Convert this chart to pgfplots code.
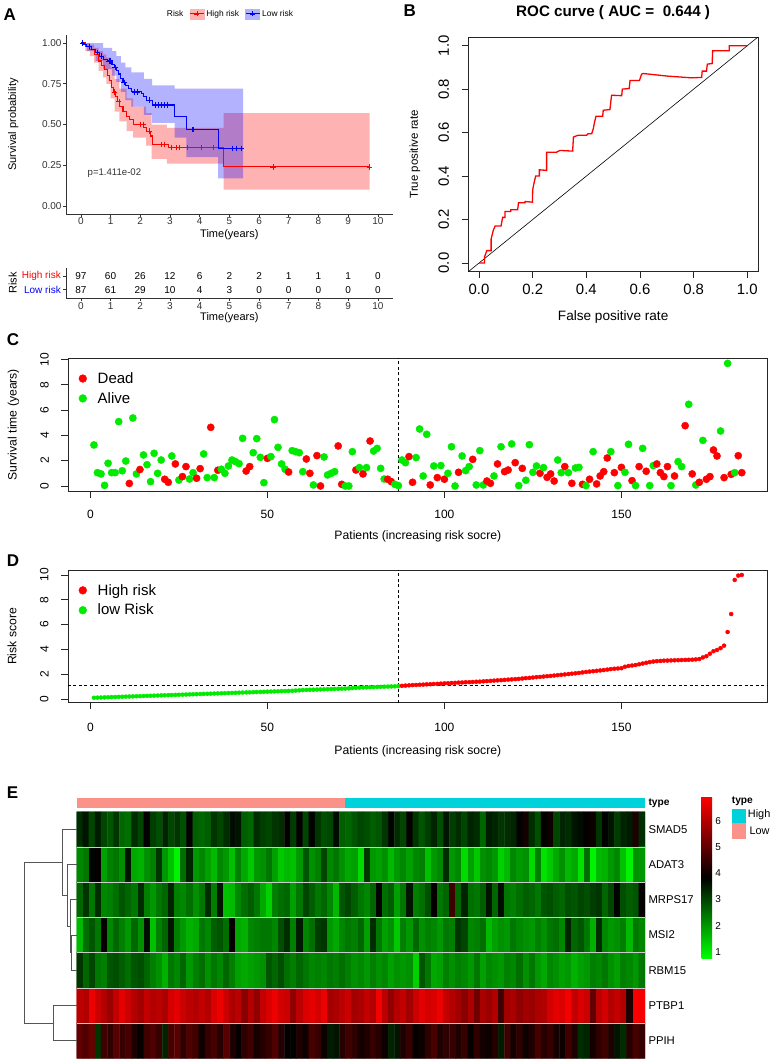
\documentclass[border=0pt]{standalone}
\usepackage{fontspec}
\setmainfont{Liberation Sans}
\usepackage{pgfplots}
\pgfplotsset{compat=1.18}
\newcommand{\fs}[1]{\fontsize{#1}{#1}\selectfont}
\definecolor{dgreen}{RGB}{0,235,0}
\definecolor{lowc}{RGB}{250,146,137}
\definecolor{highc}{RGB}{0,210,220}
\definecolor{dendro}{RGB}{85,85,85}
\pgfplotsset{
 every axis/.append style={/pgf/number format/assume math mode=true, scale only axis, anchor=north west},
 rstyle/.style={tick align=outside, tick pos=left, major tick length=6.7pt,
   tick style={black!85, line width=0.6pt}, axis line style={black!85, line width=0.8pt},
   ticklabel style={text=black}},
 kmkeyred/.style={legend image code/.code={
   \fill[red!30] (0pt,-5pt) rectangle (14pt,5pt);
   \draw[red, line width=1.1pt] (0pt,0pt) -- (14pt,0pt);
   \draw[red, line width=0.7pt] (7pt,-2.5pt) -- (7pt,2.5pt) (4.5pt,0pt) -- (9.5pt,0pt);}},
 kmkeyblue/.style={legend image code/.code={
   \fill[blue!30] (0pt,-5pt) rectangle (14pt,5pt);
   \draw[blue, line width=1.1pt] (0pt,0pt) -- (14pt,0pt);
   \draw[blue, line width=0.7pt] (7pt,-2.5pt) -- (7pt,2.5pt) (4.5pt,0pt) -- (9.5pt,0pt);}},
}
\begin{document}
\begin{tikzpicture}
\path[use as bounding box, fill=white] (0pt,0pt) rectangle (774pt,-1062pt);
% panel letters
\node[anchor=north west, inner sep=0pt, font=\fs{17}\bfseries] at (3.3pt,-8.3pt) {A};
\node[anchor=north west, inner sep=0pt, font=\fs{17}\bfseries] at (403.3pt,-5pt) {B};
\node[anchor=north west, inner sep=0pt, font=\fs{17}\bfseries] at (6.7pt,-333.3pt) {C};
\node[anchor=north west, inner sep=0pt, font=\fs{17}\bfseries] at (6.7pt,-555pt) {D};
\node[anchor=north west, inner sep=0pt, font=\fs{17}\bfseries] at (6.7pt,-786.7pt) {E};

% ---------------- Panel A: KM ----------------
\begin{axis}[at={(66pt,-34.9pt)}, width=326.7pt, height=179.3pt,
 xmin=-0.5, xmax=10.5, ymin=-0.05, ymax=1.05,
 axis x line*=bottom, axis y line*=left,
 axis line style={black!80, line width=0.9pt},
 tick align=outside, major tick length=3pt, tick style={black!80, line width=0.7pt},
 xtick={0,1,2,3,4,5,6,7,8,9,10}, ytick={0,0.25,0.5,0.75,1},
 yticklabels={0.00,0.25,0.50,0.75,1.00},
 ticklabel style={font=\fs{10}, text=black!80},
 xticklabel style={inner sep=0pt}, yticklabel style={inner sep=1.3pt},
 xlabel={Time(years)}, ylabel={Survival probability},
 label style={font=\fs{11}},
 xlabel style={at={(axis description cs:0.5,-0.116)}, anchor=center},
 ylabel style={at={(axis description cs:-0.161,0.5)}, anchor=center},
 legend style={at={(axis description cs:0.502,1)}, anchor=south, yshift=13pt, draw=none, fill=none,
   font=\fs{8.4}, /tikz/every even column/.append style={column sep=4pt}},
 legend columns=-1,
]
\addlegendimage{empty legend}\addlegendentry{Risk}
\addlegendimage{kmkeyred}\addlegendentry{High risk}
\addlegendimage{kmkeyblue}\addlegendentry{Low risk}
\addplot[fill=red, fill opacity=0.3, draw=none, forget plot] coordinates {
(0,1.00) (0.15,1.00) (0.3,1.00) (0.3,0.99) (0.45,0.99) (0.45,0.97) (0.6,0.97) (0.6,0.95) (0.75,0.95)
(0.75,0.93) (0.86,0.93) (0.86,0.91) (1.0,0.91) (1.0,0.85) (1.14,0.85) (1.14,0.78) (1.3,0.78) (1.3,0.72)
(1.54,0.72) (1.54,0.66) (1.76,0.66) (1.76,0.61) (2.2,0.61) (2.2,0.57) (2.38,0.57) (2.38,0.50) (2.9,0.50)
(2.9,0.48) (4.81,0.48) (4.81,0.57) (9.72,0.57)
(9.72,0.10) (4.81,0.10) (4.81,0.26) (2.9,0.26) (2.9,0.29) (2.38,0.29) (2.38,0.37) (2.2,0.37) (2.2,0.42)
(1.76,0.42) (1.76,0.46) (1.54,0.46) (1.54,0.52) (1.3,0.52) (1.3,0.58) (1.14,0.58) (1.14,0.66) (1.0,0.66)
(1.0,0.75) (0.86,0.75) (0.86,0.79) (0.75,0.79) (0.75,0.83) (0.6,0.83) (0.6,0.88) (0.45,0.88) (0.45,0.92)
(0.3,0.92) (0.3,0.95) (0.15,0.95) (0.15,1.00) (0,1.00)} -- cycle;
\addplot[fill=blue, fill opacity=0.3, draw=none, forget plot] coordinates {
(0,1.00) (0.75,1.00) (0.75,0.97) (1.05,0.97) (1.05,0.95) (1.2,0.95) (1.2,0.92) (1.35,0.92) (1.35,0.88)
(1.5,0.88) (1.5,0.85) (1.7,0.85) (1.7,0.82) (2.12,0.82) (2.12,0.78) (2.4,0.78) (2.4,0.74) (3.16,0.74)
(3.16,0.72) (5.46,0.72)
(5.46,0.17) (4.62,0.17) (4.62,0.30) (3.55,0.30) (3.55,0.42) (3.16,0.42) (3.16,0.51) (2.4,0.51) (2.4,0.56)
(2.12,0.56) (2.12,0.61) (1.7,0.61) (1.7,0.65) (1.5,0.65) (1.5,0.70) (1.35,0.70) (1.35,0.76) (1.2,0.76)
(1.2,0.80) (1.05,0.80) (1.05,0.84) (0.75,0.84) (0.75,0.89) (0.5,0.89) (0.5,0.95) (0.2,0.95) (0.2,1.00)
(0,1.00)} -- cycle;
\addplot[const plot, red, line width=1.1pt, forget plot] coordinates {
(0,1.00) (0.15,0.98) (0.3,0.96) (0.45,0.93) (0.6,0.89) (0.7,0.86) (0.8,0.84) (0.9,0.80) (0.97,0.77)
(1.03,0.73) (1.1,0.70) (1.16,0.67) (1.22,0.64) (1.31,0.61) (1.42,0.58) (1.54,0.55) (1.65,0.53)
(1.76,0.50) (2.12,0.48) (2.2,0.46) (2.34,0.43) (2.41,0.38) (2.94,0.36) (4.81,0.24) (9.72,0.24)};
\addplot[const plot, blue, line width=1.1pt, forget plot] coordinates {
(0,1.00) (0.1,0.99) (0.2,0.98) (0.35,0.96) (0.5,0.94) (0.62,0.92) (0.75,0.90) (0.9,0.89) (1.05,0.87)
(1.12,0.85) (1.2,0.83) (1.28,0.81) (1.35,0.78) (1.42,0.76) (1.5,0.74) (1.6,0.72) (1.7,0.70) (2.05,0.69)
(2.12,0.67) (2.2,0.65) (2.4,0.62) (3.16,0.55) (3.55,0.47) (4.62,0.355) (5.46,0.355)};
\addplot[only marks, mark=+, mark size=2.6pt, red, line width=0.7pt, forget plot] coordinates {
(1.12,0.70) (1.28,0.64) (2.0,0.50) (2.1,0.50) (2.3,0.46) (2.7,0.38) (2.8,0.38) (3.05,0.36) (3.2,0.36)
(3.3,0.36) (3.6,0.36) (4.05,0.36) (4.45,0.36) (6.47,0.24) (9.72,0.24)};
\addplot[only marks, mark=+, mark size=2.6pt, blue, line width=0.7pt, forget plot] coordinates {
(0.05,1.0) (0.3,0.98) (0.55,0.94) (0.7,0.92) (0.95,0.89) (1.0,0.89) (1.15,0.85) (1.45,0.76) (1.8,0.70)
(1.9,0.70) (2.3,0.65) (2.5,0.62) (2.6,0.62) (2.7,0.62) (2.8,0.62) (2.9,0.62) (3.75,0.47) (3.8,0.47)
(5.1,0.355) (5.25,0.355) (5.4,0.355)};
\node[font=\fs{9.6}, text=black!80] at (axis cs:1.13,0.2) {p=1.411e-02};
\end{axis}

% ---------------- Risk table ----------------
\begin{axis}[at={(66pt,-268pt)}, width=326.7pt, height=30pt,
 xmin=-0.5, xmax=10.5, ymin=0.4, ymax=2.6,
 axis x line*=bottom, axis y line*=left,
 axis line style={black!80, line width=0.9pt},
 tick align=outside, major tick length=3pt, tick style={black!80, line width=0.7pt},
 xtick={0,1,2,3,4,5,6,7,8,9,10}, ytick={1,2},
 yticklabels={\textcolor{blue}{Low risk},\textcolor{red}{High risk}},
 ticklabel style={font=\fs{10}, text=black!80},
 xticklabel style={inner sep=1.2pt}, yticklabel style={inner sep=2pt},
 xlabel={Time(years)}, ylabel={Risk},
 label style={font=\fs{11}},
 xlabel style={at={(axis description cs:0.5,-0.667)}, anchor=center},
 ylabel style={at={(axis description cs:-0.163,0.5)}, anchor=center},
]
\addplot[only marks, mark=*, mark size=0pt, scatter/use mapped color={draw=white, fill=white, draw opacity=0, fill opacity=0},
 nodes near coords, point meta=explicit symbolic,
 every node near coord/.style={anchor=center, font=\fs{10}, text=black, opacity=1}] table[meta=n] {
x y n
0 2 97
1 2 60
2 2 26
3 2 12
4 2 6
5 2 2
6 2 2
7 2 1
8 2 1
9 2 1
10 2 0
0 1 87
1 1 61
2 1 29
3 1 10
4 1 4
5 1 3
6 1 0
7 1 0
8 1 0
9 1 0
10 1 0
};
\end{axis}

% ---------------- Panel B: ROC ----------------
\begin{axis}[rstyle, at={(468.3pt,-37pt)}, width=289.7pt, height=234.7pt,
 xmin=-0.04, xmax=1.04, ymin=-0.04, ymax=1.04,
 xtick={0,0.2,0.4,0.6,0.8,1}, ytick={0,0.2,0.4,0.6,0.8,1},
 xticklabels={0.0,0.2,0.4,0.6,0.8,1.0}, yticklabels={0.0,0.2,0.4,0.6,0.8,1.0},
 ticklabel style={font=\fs{14.9}},
 xticklabel style={inner sep=0pt, yshift=-5.6pt},
 yticklabel style={rotate=90, anchor=south, inner sep=12.3pt},
 xlabel={False positive rate}, ylabel={True positive rate},
 xlabel style={at={(axis description cs:0.5,-0.192)}, anchor=center, font=\fs{13.6}},
 ylabel style={at={(axis description cs:-0.184,0.5)}, anchor=center, font=\fs{11.5}},
 title={ROC curve ( AUC =~~0.644 )},
 title style={at={(axis description cs:0.5,1)}, anchor=center, yshift=18pt, font=\fs{15.2}\bfseries},
]
\addplot[black, line width=0.6pt] coordinates {(-0.04,-0.04) (1.04,1.04)};
\addplot[red, line width=1.3pt] coordinates {
(0,0) (0.02,0) (0.02,0.026) (0.029,0.057) (0.045,0.057) (0.045,0.11) (0.053,0.15) (0.06,0.17)
(0.082,0.17) (0.088,0.21) (0.097,0.21) (0.097,0.237) (0.118,0.237) (0.118,0.245) (0.144,0.245)
(0.147,0.277) (0.171,0.277) (0.171,0.283) (0.199,0.28) (0.2,0.337) (0.205,0.368) (0.211,0.40)
(0.225,0.40) (0.225,0.429) (0.252,0.426) (0.252,0.51) (0.289,0.51) (0.302,0.518) (0.349,0.515)
(0.352,0.58) (0.37,0.588) (0.401,0.588) (0.407,0.595) (0.42,0.595) (0.426,0.618) (0.43,0.645)
(0.436,0.675) (0.461,0.675) (0.463,0.703) (0.488,0.706) (0.494,0.772) (0.532,0.77) (0.534,0.8)
(0.56,0.803) (0.563,0.84) (0.598,0.84) (0.606,0.869) (0.612,0.872) (0.703,0.86) (0.793,0.852)
(0.83,0.854) (0.832,0.883) (0.848,0.883) (0.851,0.915) (0.869,0.918) (0.871,0.977) (0.892,0.977)
(0.933,0.977) (0.933,1.0) (0.973,1.0) (1.0,1.0)};
\end{axis}

% ---------------- Panel C ----------------
\begin{axis}[rstyle, at={(68pt,-358.2pt)}, width=699.7pt, height=132.7pt,
 xmin=-6.32, xmax=191.32, ymin=-0.39, ymax=10.09,
 xtick={0,50,100,150}, ytick={0,2,4,6,8,10},
 ticklabel style={font=\fs{12}},
 xticklabel style={inner sep=0pt, yshift=-12.8pt},
 yticklabel style={rotate=90, anchor=south, inner sep=12.3pt},
 xlabel={Patients (increasing risk socre)}, ylabel={Survival time (years)},
 label style={font=\fs{12.2}},
 xlabel style={at={(axis description cs:0.5,-0.34)}, anchor=center},
 ylabel style={at={(axis description cs:-0.0779,0.5)}, anchor=center},
 legend style={at={(axis description cs:0.011,0.925)}, anchor=north west, draw=none, fill=none,
   font=\fs{15}, row sep=3.5pt, /tikz/every odd column/.append style={column sep=9pt}},
 legend cell align=left,
]
\addlegendimage{only marks, mark=*, red, mark size=3.9pt}\addlegendentry{Dead}
\addlegendimage{only marks, mark=*, dgreen, mark size=3.9pt}\addlegendentry{Alive}
\addplot[black, dash pattern=on 3pt off 2.5pt, line width=0.7pt, forget plot] coordinates {(87,-0.39) (87,10.09)};
\addplot[scatter, only marks, mark=*, mark size=3.6pt, scatter src=explicit symbolic,
 scatter/classes={d={mark=*,red}, a={mark=*,dgreen}}, forget plot] coordinates {
(1,3.24)[a] (2,1.05)[a] (3,0.95)[a] (4,0.05)[a] (5,1.79)[a] (6,1.05)[a] (7,1.05)[a] (8,5.08)[a] (9,1.20)[a] (10,1.97)[a]
(11,0.20)[d] (12,5.37)[a] (13,0.95)[a] (14,1.30)[d] (15,2.45)[a] (16,1.68)[a] (17,0.34)[a] (18,2.58)[a] (19,1.00)[a] (20,2.05)[a]
(21,0.53)[d] (22,0.29)[d] (23,2.37)[a] (24,1.74)[d] (25,0.47)[a] (26,0.74)[d] (27,1.53)[d] (28,0.55)[a] (29,1.05)[a] (30,0.61)[d]
(31,1.37)[d] (32,2.53)[a] (33,0.66)[a] (34,4.63)[d] (35,0.66)[a] (36,1.24)[d] (37,1.32)[a] (38,1.00)[a] (39,1.58)[a] (40,2.05)[a]
(41,1.92)[a] (42,1.76)[a] (43,3.76)[a] (44,1.18)[d] (45,1.53)[d] (46,2.63)[a] (47,3.74)[a] (48,2.26)[a] (49,0.26)[a] (50,2.18)[d]
(51,2.32)[a] (52,5.24)[a] (53,3.05)[a] (54,1.74)[a] (55,1.32)[a] (56,1.10)[d] (57,2.79)[a] (58,2.71)[a] (59,2.63)[a] (60,1.13)[a]
(61,2.13)[d] (62,1.00)[d] (63,0.08)[a] (64,2.40)[d] (65,0.00)[d] (66,2.29)[a] (67,0.87)[a] (68,1.00)[a] (69,1.13)[a] (70,3.16)[d]
(71,0.13)[d] (72,0.00)[a] (73,0.00)[a] (74,2.71)[a] (75,1.26)[d] (76,1.45)[a] (77,0.95)[d] (78,1.45)[a] (79,3.55)[d] (80,2.76)[a]
(81,2.97)[a] (82,1.39)[a] (83,0.55)[a] (84,0.53)[d] (85,0.34)[d] (86,0.13)[a] (87,0.03)[a]
(88,2.05)[a] (89,1.84)[a] (90,2.32)[d] (91,0.29)[d] (92,2.24)[a] (93,4.50)[a] (94,0.79)[a] (95,4.08)[a] (96,0.08)[d] (97,1.58)[a]
(98,0.66)[d] (99,1.61)[a] (100,0.53)[d] (101,1.00)[a] (102,3.10)[a] (103,0.00)[a] (104,1.08)[d] (105,2.37)[a] (106,1.21)[a] (107,1.53)[a]
(108,2.10)[d] (109,0.08)[a] (110,2.79)[a] (111,0.08)[a] (112,0.39)[d] (113,0.21)[d] (114,0.79)[a] (115,1.74)[d] (116,3.10)[a] (117,1.13)[d]
(118,1.26)[d] (119,3.32)[a] (120,1.84)[d] (121,0.03)[a] (122,1.39)[d] (123,0.45)[a] (124,3.26)[a] (125,1.08)[a] (126,1.58)[a] (127,1.00)[d]
(128,1.45)[a] (129,0.68)[d] (130,0.95)[d] (131,0.39)[d] (132,2.05)[a] (133,1.05)[a] (134,1.53)[d] (135,1.05)[a] (136,0.21)[d] (137,1.42)[a]
(138,1.47)[a] (139,0.13)[d] (140,0.03)[a] (141,0.53)[d] (142,2.71)[a] (143,0.16)[d] (144,0.79)[d] (145,1.13)[d] (146,2.21)[d] (147,2.71)[a]
(148,1.05)[d] (149,0.03)[a] (150,1.47)[d] (151,1.08)[a] (152,3.29)[a] (153,0.42)[d] (154,0.03)[a] (155,1.53)[d] (156,2.97)[a] (157,1.16)[d]
(158,0.03)[a] (159,1.61)[a] (160,1.74)[d] (161,1.05)[d] (162,0.74)[d] (163,1.53)[d] (164,0.03)[a] (165,0.79)[d] (166,1.92)[a] (167,1.53)[a]
(168,4.76)[d] (169,6.45)[a] (170,0.95)[d] (171,0.08)[a] (172,0.29)[d] (173,3.60)[a] (174,0.53)[d] (175,0.74)[d] (176,2.84)[d] (177,2.37)[d]
(178,4.34)[a] (179,0.66)[d] (180,9.68)[a] (181,0.92)[d] (182,1.05)[a] (183,2.39)[d] (184,1.05)[d]};
\end{axis}

% ---------------- Panel D ----------------
\begin{axis}[rstyle, at={(68pt,-570pt)}, width=699.7pt, height=132.7pt,
 xmin=-6.32, xmax=191.32, ymin=-0.3, ymax=10.4,
 xtick={0,50,100,150}, ytick={0,2,4,6,8,10},
 ticklabel style={font=\fs{12}},
 xticklabel style={inner sep=0pt, yshift=-13.3pt},
 yticklabel style={rotate=90, anchor=south, inner sep=12.5pt},
 xlabel={Patients (increasing risk socre)}, ylabel={Risk score},
 label style={font=\fs{12.2}},
 xlabel style={at={(axis description cs:0.5,-0.364)}, anchor=center},
 ylabel style={at={(axis description cs:-0.08,0.5)}, anchor=center},
 legend style={at={(axis description cs:0.011,0.925)}, anchor=north west, draw=none, fill=none,
   font=\fs{15}, row sep=3.5pt, /tikz/every odd column/.append style={column sep=9pt}},
 legend cell align=left,
]
\addlegendimage{only marks, mark=*, red, mark size=3.9pt}\addlegendentry{High risk}
\addlegendimage{only marks, mark=*, dgreen, mark size=3.9pt}\addlegendentry{low Risk}
\addplot[black, dash pattern=on 3pt off 2.5pt, line width=0.7pt, forget plot] coordinates {(87,-0.3) (87,10.4)};
\addplot[black, dash pattern=on 3pt off 2.5pt, line width=0.7pt, forget plot] coordinates {(-6.32,1.13) (191.32,1.13)};
\addplot[only marks, mark=*, mark size=2pt, dgreen, forget plot] coordinates {
(1,0.10) (2,0.11) (3,0.12) (4,0.13) (5,0.14) (6,0.15) (7,0.16) (8,0.17) (9,0.18) (10,0.19)
(11,0.20) (12,0.21) (13,0.22) (14,0.23) (15,0.24) (16,0.25) (17,0.26) (18,0.27) (19,0.28) (20,0.29)
(21,0.30) (22,0.31) (23,0.32) (24,0.33) (25,0.34) (26,0.35) (27,0.36) (28,0.37) (29,0.38) (30,0.39)
(31,0.40) (32,0.41) (33,0.42) (34,0.43) (35,0.44) (36,0.45) (37,0.46) (38,0.47) (39,0.48) (40,0.49)
(41,0.50) (42,0.51) (43,0.52) (44,0.53) (45,0.54) (46,0.55) (47,0.56) (48,0.57) (49,0.58) (50,0.59)
(51,0.60) (52,0.61) (53,0.62) (54,0.63) (55,0.64) (56,0.65) (57,0.66) (58,0.68) (59,0.70) (60,0.72)
(61,0.73) (62,0.74) (63,0.75) (64,0.76) (65,0.77) (66,0.78) (67,0.79) (68,0.80) (69,0.81) (70,0.82)
(71,0.83) (72,0.84) (73,0.86) (74,0.88) (75,0.90) (76,0.92) (77,0.93) (78,0.94) (79,0.95) (80,0.96)
(81,0.97) (82,0.98) (83,0.99) (84,1.00) (85,1.01) (86,1.02) (87,1.04)};
\addplot[only marks, mark=*, mark size=2pt, red, forget plot] coordinates {
(88,1.06) (89,1.08) (90,1.10) (91,1.12) (92,1.13) (93,1.15) (94,1.16) (95,1.18) (96,1.19) (97,1.21)
(98,1.22) (99,1.24) (100,1.26) (101,1.27) (102,1.29) (103,1.30) (104,1.32) (105,1.33) (106,1.35) (107,1.36)
(108,1.37) (109,1.39) (110,1.40) (111,1.42) (112,1.44) (113,1.46) (114,1.48) (115,1.50) (116,1.52) (117,1.54)
(118,1.56) (119,1.58) (120,1.60) (121,1.62) (122,1.65) (123,1.68) (124,1.70) (125,1.73) (126,1.76) (127,1.78)
(128,1.81) (129,1.84) (130,1.86) (131,1.89) (132,1.92) (133,1.95) (134,1.98) (135,2.01) (136,2.04) (137,2.07)
(138,2.10) (139,2.14) (140,2.18) (141,2.21) (142,2.24) (143,2.27) (144,2.30) (145,2.33) (146,2.37) (147,2.41)
(148,2.44) (149,2.46) (150,2.48) (151,2.60) (152,2.66) (153,2.70) (154,2.74) (155,2.80) (156,2.86) (157,2.92)
(158,2.97) (159,3.02) (160,3.05) (161,3.07) (162,3.09) (163,3.10) (164,3.11) (165,3.12) (166,3.13) (167,3.14)
(168,3.15) (169,3.16) (170,3.17) (171,3.19) (172,3.22) (173,3.35) (174,3.45) (175,3.65) (176,3.85) (177,3.95)
(178,4.10) (179,4.30) (180,5.40) (181,6.85) (182,9.60) (183,9.95) (184,10.0)};
\end{axis}

% ---------------- Panel E: heatmap ----------------
\begin{axis}[at={(76.7pt,-811.7pt)}, width=568.3pt, height=246.6pt,
 xmin=-0.5, xmax=92.5, ymin=-0.5, ymax=6.5, y dir=reverse, clip=false,
 axis line style={draw=none}, tick style={draw=none}, major tick length=0pt, xtick=\empty,
 ytick={0,1,2,3,4,5,6},
 yticklabels={SMAD5,ADAT3,MRPS17,MSI2,RBM15,PTBP1,PPIH},
 yticklabel pos=right, yticklabel style={font=\fs{11.3}, inner sep=3.3pt},
 colormap={gbr}{rgb255=(0,255,0) rgb255=(0,0,0) rgb255=(255,0,0)},
 point meta min=0.75, point meta max=6.93,
 colorbar,
 colorbar style={at={(parent axis.north east)}, anchor=north west, xshift=48pt, yshift=15pt,
   width=10.7pt, height=161.6pt, ytick={1,2,3,4,5,6}, yticklabel pos=right,
   axis line style={draw=none}, tick style={draw=none}, major tick length=0pt,
   yticklabel style={font=\fs{10}, inner sep=3pt}},
]
\addplot[matrix plot*, mesh/cols=93, point meta=explicit, forget plot]
 table[header=false, x expr={mod(\coordindex,93)}, y expr={floor((\coordindex+0.5)/93)}, meta index=0] {
3.3
3.6
3.0
3.5
3.0
2.8
3.2
2.6
2.5
3.3
3.0
3.9
3.1
2.9
3.4
3.0
3.2
2.9
3.9
2.7
2.6
2.7
3.2
3.0
3.3
3.7
3.6
2.7
2.6
3.3
3.1
3.0
3.2
3.3
3.9
3.1
3.9
3.0
3.8
3.2
2.9
3.0
3.7
2.7
2.6
2.8
3.0
2.9
2.7
2.8
3.2
3.8
3.3
3.0
3.9
3.2
2.8
3.1
3.4
2.9
3.6
3.1
3.3
3.0
3.4
3.3
2.6
3.5
3.4
3.2
3.3
3.4
3.8
4.1
3.3
2.9
3.9
4.0
3.0
3.4
3.3
3.6
3.7
3.9
4.0
3.2
3.8
3.6
3.1
3.4
3.5
4.2
3.3
2.2
2.4
3.8
3.9
1.9
2.3
2.4
2.1
3.6
1.8
1.7
2.1
2.3
3.2
2.0
1.5
0.9
2.5
3.4
2.0
2.2
1.9
1.6
2.2
2.0
1.5
2.3
1.8
1.4
2.0
2.1
2.4
1.9
1.4
1.6
1.5
2.0
2.8
2.1
2.3
3.0
2.2
2.4
2.1
1.8
1.9
1.2
3.2
2.0
1.9
2.1
1.6
2.0
2.2
1.9
2.2
2.3
1.5
2.0
2.2
3.3
2.0
2.2
1.2
1.9
1.4
2.1
2.2
2.0
1.3
1.6
2.2
2.0
2.1
1.2
2.3
1.1
1.4
1.8
2.1
1.6
1.8
1.1
2.5
0.9
1.6
1.7
2.0
2.2
1.5
0.9
2.1
2.0
2.6
3.2
2.4
3.3
2.2
2.3
2.5
2.8
2.6
2.4
3.3
2.3
2.0
2.4
2.6
3.4
2.3
2.2
2.5
2.1
2.4
3.3
2.3
3.6
1.5
1.6
2.2
2.5
2.7
2.4
1.8
1.3
2.3
2.5
2.6
1.9
2.4
3.0
2.7
2.4
2.6
2.2
1.6
2.8
3.0
2.7
2.4
2.2
2.6
3.8
2.5
2.7
1.9
2.4
3.6
2.3
2.5
2.9
3.9
2.4
2.6
4.6
2.6
3.4
2.5
2.4
2.7
3.6
2.6
3.7
2.4
2.3
2.5
2.7
2.6
2.4
2.8
2.9
2.7
2.6
2.9
2.8
3.0
2.9
3.1
3.2
2.6
3.0
3.8
2.9
2.7
2.8
3.9
1.6
2.5
2.8
2.4
3.9
2.2
2.6
2.3
2.0
2.6
2.1
3.7
1.5
2.3
2.6
3.6
2.3
2.0
1.7
1.8
2.4
2.2
2.7
2.8
2.5
3.9
1.8
1.7
2.2
2.3
2.4
2.4
2.2
2.9
3.3
2.3
3.5
2.2
2.5
3.1
3.2
2.0
1.8
2.2
2.4
2.3
2.6
1.9
3.3
2.4
1.9
2.1
1.4
2.3
2.0
2.6
2.1
2.3
2.2
2.0
2.4
2.3
3.2
3.0
2.2
2.3
2.5
1.6
1.9
2.1
2.0
2.4
2.2
2.1
2.0
2.3
2.1
2.4
2.5
2.2
3.4
2.6
2.8
2.4
1.7
3.3
2.2
2.0
2.1
2.3
1.6
2.4
2.2
3.2
2.6
3.0
2.4
2.3
2.8
2.9
2.7
2.5
2.8
2.9
2.6
2.3
2.1
1.7
2.4
2.2
2.6
2.0
2.3
2.5
2.1
2.4
2.2
2.6
2.3
1.9
1.8
1.9
2.0
2.1
2.8
2.6
2.9
2.5
2.3
2.6
2.4
2.2
2.3
2.2
2.4
2.3
2.5
2.3
2.1
2.2
2.0
2.3
2.1
2.2
1.9
2.1
2.0
2.1
1.3
2.8
2.4
1.8
1.9
2.3
2.1
2.3
2.2
2.0
2.4
1.9
2.2
2.1
2.0
2.3
2.2
2.5
2.1
2.4
2.0
1.8
2.2
2.1
1.9
2.0
1.7
1.9
2.0
2.3
2.2
2.4
2.1
1.9
2.3
2.2
2.0
2.4
6.1
6.0
6.7
6.3
6.0
5.7
6.2
6.6
6.3
6.0
5.8
6.2
6.0
6.1
5.9
6.4
6.6
6.3
6.1
6.0
6.2
6.0
6.5
6.7
6.3
5.9
6.1
5.5
6.0
5.6
6.2
6.5
6.7
6.4
6.3
5.6
6.1
6.5
6.6
6.4
6.7
5.8
5.9
6.1
6.3
5.8
5.9
6.2
6.0
6.8
6.1
5.6
6.0
6.2
5.8
6.3
6.6
6.4
6.5
6.7
6.2
6.0
5.8
5.5
5.9
5.2
5.9
5.7
6.0
4.6
5.8
5.9
5.6
5.8
5.7
5.9
6.0
6.4
6.6
6.5
6.8
6.2
6.5
6.3
5.0
6.1
6.4
6.0
6.2
6.0
4.2
6.9
6.8
5.0
4.8
5.1
3.2
4.6
4.4
4.9
4.5
4.7
4.2
3.9
4.6
4.8
4.5
3.4
4.7
4.9
4.4
4.8
4.6
4.0
4.5
4.7
4.3
4.9
4.2
3.9
4.4
4.6
4.1
4.3
4.5
4.8
4.3
3.9
3.8
4.2
4.0
4.7
4.5
4.0
3.5
3.6
4.3
4.6
4.4
4.1
4.2
4.5
4.3
4.0
3.4
3.6
4.2
4.5
3.9
4.0
4.4
4.7
4.2
4.4
4.5
4.2
4.5
3.9
4.4
4.1
4.0
4.3
3.5
4.6
4.1
4.4
4.0
4.2
4.7
4.3
4.5
4.1
4.0
4.6
4.2
3.3
3.4
4.1
4.4
4.6
4.2
3.6
3.3
4.3
4.7
4.5
};
\addplot[lightgray!80, line width=0.5pt, forget plot] coordinates {(-0.5,0.5) (92.5,0.5)};
\addplot[lightgray!80, line width=0.5pt, forget plot] coordinates {(-0.5,1.5) (92.5,1.5)};
\addplot[lightgray!80, line width=0.5pt, forget plot] coordinates {(-0.5,2.5) (92.5,2.5)};
\addplot[lightgray!80, line width=0.5pt, forget plot] coordinates {(-0.5,3.5) (92.5,3.5)};
\addplot[lightgray!80, line width=0.5pt, forget plot] coordinates {(-0.5,4.5) (92.5,4.5)};
\addplot[lightgray!80, line width=0.5pt, forget plot] coordinates {(-0.5,5.5) (92.5,5.5)};
\addplot[fill=lowc, draw=none, forget plot] coordinates {(-0.5,-0.605) (43.47,-0.605) (43.47,-0.889) (-0.5,-0.889)} -- cycle;
\addplot[fill=highc, draw=none, forget plot] coordinates {(43.47,-0.605) (92.5,-0.605) (92.5,-0.889) (43.47,-0.889)} -- cycle;
\addplot[dendro, line width=0.8pt, forget plot] coordinates {(-0.5,3) (-1.37,3) (-1.37,4) (-0.5,4)};
\addplot[dendro, line width=0.8pt, forget plot] coordinates {(-0.5,2) (-1.54,2) (-1.54,3.5) (-1.37,3.5)};
\addplot[dendro, line width=0.8pt, forget plot] coordinates {(-0.5,1) (-2.08,1) (-2.08,2.75) (-1.54,2.75)};
\addplot[dendro, line width=0.8pt, forget plot] coordinates {(-0.5,0) (-2.85,0) (-2.85,1.875) (-2.08,1.875)};
\addplot[dendro, line width=0.8pt, forget plot] coordinates {(-0.5,5) (-4.25,5) (-4.25,6) (-0.5,6)};
\addplot[dendro, line width=0.8pt, forget plot] coordinates {(-2.85,0.9375) (-9,0.9375) (-9,5.5) (-4.25,5.5)};
\node[anchor=west, inner sep=3.3pt, font=\fs{10.2}\bfseries] at (axis cs:92.5,-0.747) {type};
\end{axis}

% heatmap annotation legend
\node[anchor=west, inner sep=0pt, font=\fs{10.2}\bfseries] at (731.7pt,-801.7pt) {type};
\fill[highc] (731.7pt,-809.3pt) rectangle (745.7pt,-823.3pt);
\fill[lowc] (731.7pt,-823.3pt) rectangle (745.7pt,-839.3pt);
\node[anchor=west, inner sep=0pt, font=\fs{10.9}] at (747.7pt,-815pt) {High};
\node[anchor=west, inner sep=0pt, font=\fs{10.9}] at (749.3pt,-831pt) {Low};
\end{tikzpicture}
\end{document}
